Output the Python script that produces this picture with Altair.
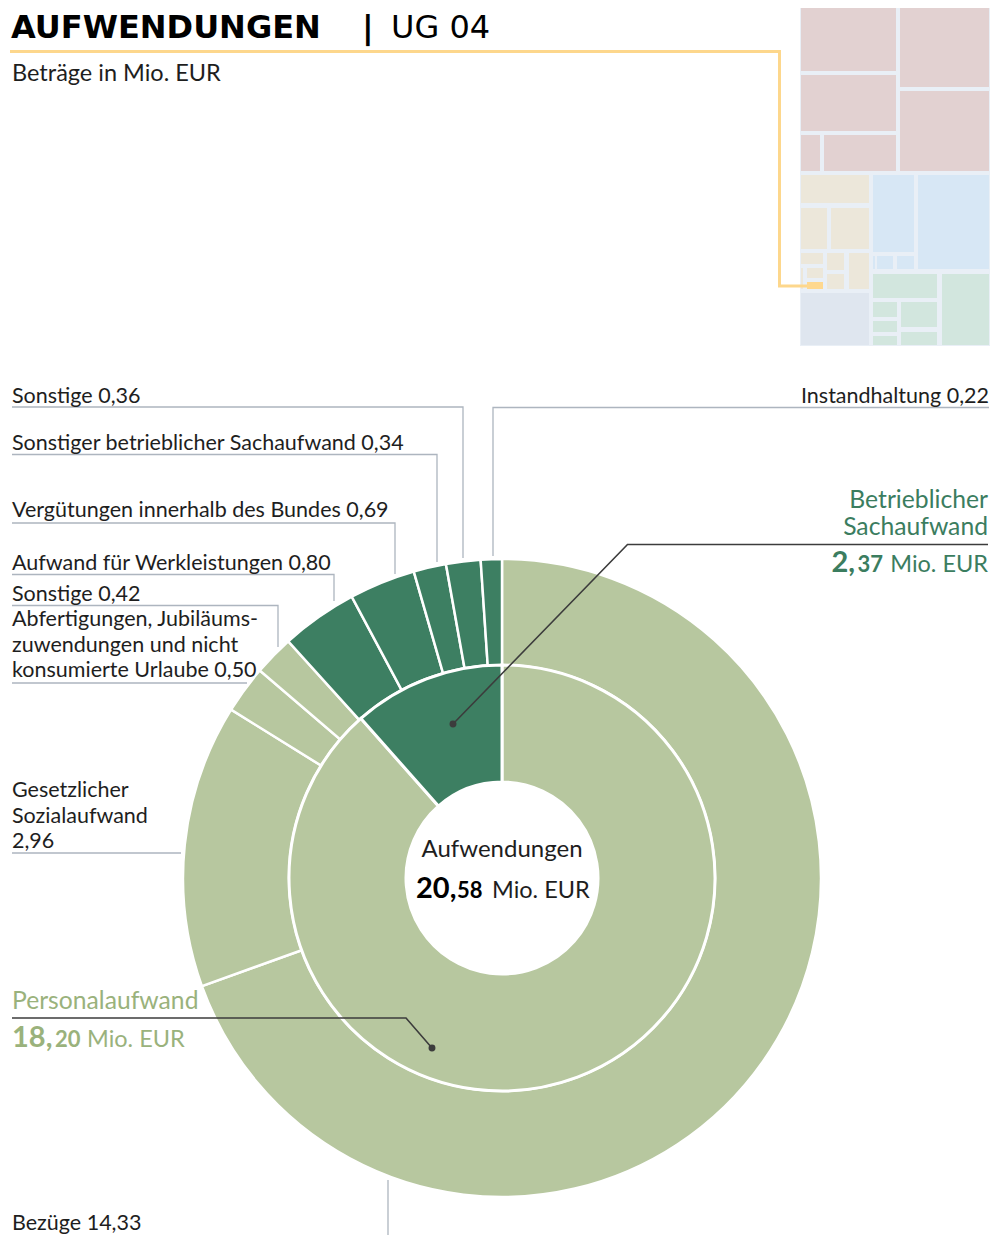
import altair as alt
import pandas as pd

# ---------------- data ----------------
total_value = 20.58
inner_names = ["Personalaufwand", "Betrieblicher Sachaufwand"]
inner_values = [18.20, 2.37]

outer_names = [
    "Bezüge",
    "Gesetzlicher Sozialaufwand",
    "Abfertigungen, Jubiläumszuwendungen und nicht konsumierte Urlaube",
    "Sonstige",
    "Aufwand für Werkleistungen",
    "Vergütungen innerhalb des Bundes",
    "Sonstiger betrieblicher Sachaufwand",
    "Sonstige",
    "Instandhaltung",
]
outer_values = [14.33, 2.96, 0.50, 0.42, 0.80, 0.69, 0.34, 0.36, 0.22]
outer_parent = [0, 0, 0, 0, 1, 1, 1, 1, 1]
outer_label_text = [
    "Bezüge {v}",
    "Gesetzlicher\nSozialaufwand\n{v}",
    "Abfertigungen, Jubiläums-\nzuwendungen und nicht\nkonsumierte Urlaube {v}",
    "Sonstige {v}",
    "Aufwand für Werkleistungen {v}",
    "Vergütungen innerhalb des Bundes {v}",
    "Sonstiger betrieblicher Sachaufwand {v}",
    "Sonstige {v}",
    "Instandhaltung {v}",
]

title_bold = "AUFWENDUNGEN"
title_sep = "|"
title_regular = "UG 04"
subtitle = "Beträge in Mio. EUR"
center_title = "Aufwendungen"
unit = "Mio. EUR"

# overview treemap thumbnail (cell bounds)
tm_group = ["r", "r", "r", "r", "r", "r",
            "b", "b", "b", "b", "b", "b", "b", "b", "b", "o",
            "u", "u", "u", "u", "u",
            "g",
            "t", "t", "t", "t", "t", "t", "t"]
tm_x0 = [801, 900, 801, 900, 801, 824,
         801, 801, 831, 801, 827, 849, 801, 807, 827, 807,
         873, 918, 873, 877, 897,
         801,
         873, 942, 873, 901, 873, 873, 901]
tm_x1 = [896, 989, 896, 989, 820, 896,
         869, 827, 869, 823, 844, 869, 803, 823, 844, 823,
         914, 989, 875, 893, 914,
         869,
         937, 989, 897, 937, 897, 897, 937]
tm_y0 = [5, 5, 75, 91, 135, 135,
         175, 208, 208, 253, 253, 253, 268, 268, 274, 282,
         175, 175, 256, 256, 256,
         293,
         274, 274, 302, 302, 321, 336, 332]
tm_y1 = [71, 87, 131, 171, 171, 171,
         203, 249, 249, 264, 270, 289, 289, 278, 289, 289,
         252, 269, 269, 269, 269,
         345,
         298, 345, 317, 327, 332, 345, 345]

# ---------------- styles / layout ----------------
LIGHT = "#b7c79f"
DARK = "#3d7f62"
LIGHT_TXT = "#9ab27c"
DARK_TXT = "#3b7d5f"
INK = "#1e1e1e"
GREY_LINE = "#adb5bf"
LEAD = "#3c3c3c"
YELLOW = "#fdd78c"
TM_COLORS = {"r": "#e2d1d1", "b": "#ece7da", "o": "#fed88f", "u": "#d7e7f5",
             "g": "#dfe6ef", "t": "#d2e6de"}
TM_BG = "#e9eff6"
FONT = "Lato"
TFONT = "DejaVu Sans"
LBL = 21.5

W, H = 985, 1227
M = 8
CX, CY = 502, 878          # page coordinates of donut centre
R_HOLE, R_MID, R_OUT = 96, 213, 319

xs = alt.Scale(domain=[M, M + W], nice=False, zero=False)
ys = alt.Scale(domain=[M, M + H], nice=False, zero=False, reverse=True)


def X(f):
    return alt.X(f, type="quantitative", scale=xs, axis=None)


def Y(f):
    return alt.Y(f, type="quantitative", scale=ys, axis=None)


def fmt(v):
    return f"{v:.2f}".replace(".", ",")


def text_layer(rows, **props):
    df = pd.DataFrame(rows, columns=["x", "y", "text", "color"])
    return alt.Chart(df).mark_text(font=props.pop("font", FONT), **props).encode(
        x=X("x"), y=Y("y"), text="text:N", color=alt.Color("color:N", scale=None)
    )


def line_layer(paths, color, width):
    rows = []
    for i, pts in enumerate(paths):
        for j, (x, y) in enumerate(pts):
            rows.append({"id": i, "k": j, "x": x, "y": y})
    return alt.Chart(pd.DataFrame(rows)).mark_line(color=color, strokeWidth=width).encode(
        x=X("x"), y=Y("y"), detail="id:N", order="k:Q"
    )


# ---------------- treemap ----------------
tm_df = pd.DataFrame({"x0": tm_x0, "x1": tm_x1, "y0": tm_y0, "y1": tm_y1,
                      "fill": [TM_COLORS[g] for g in tm_group]})
tm_bg = alt.Chart(pd.DataFrame({"x0": [800], "x1": [990], "y0": [4], "y1": [346]})).mark_rect(
    color=TM_BG).encode(x=X("x0"), x2="x1", y=Y("y0"), y2="y1")
tm = alt.Chart(tm_df).mark_rect().encode(
    x=X("x0"), x2="x1", y=Y("y0"), y2="y1", color=alt.Color("fill:N", scale=None))

yellow = line_layer([[(10, 51.5), (779.5, 51.5), (779.5, 286), (807, 286)]], YELLOW, 3)

# ---------------- donut ----------------
inner_df = pd.DataFrame({"name": inner_names, "value": inner_values, "ord": [0, 1],
                         "fill": [LIGHT, DARK]})
outer_df = pd.DataFrame({"name": outer_names, "value": outer_values,
                         "ord": list(range(len(outer_values))),
                         "fill": [[LIGHT, DARK][p] for p in outer_parent]})

outer_arc = alt.Chart(outer_df).mark_arc(
    innerRadius=R_MID, outerRadius=R_OUT, stroke="white", strokeWidth=2.5
).encode(
    theta=alt.Theta("value:Q", stack=True),
    order=alt.Order("ord:Q"),
    color=alt.Color("fill:N", scale=None),
    x=alt.value(CX - M), y=alt.value(CY - M),
)
inner_arc = alt.Chart(inner_df).mark_arc(
    innerRadius=R_HOLE, outerRadius=R_MID, stroke="white", strokeWidth=3
).encode(
    theta=alt.Theta("value:Q", stack=True),
    order=alt.Order("ord:Q"),
    color=alt.Color("fill:N", scale=None),
    x=alt.value(CX - M), y=alt.value(CY - M),
)

# ---------------- leader lines ----------------
grey_paths = [
    [(388, 1180), (388, 1235)],                      # Bezüge
    [(12, 853), (181, 853)],                         # Gesetzlicher Sozialaufwand
    [(12, 683), (247, 683)],                         # Abfertigungen
    [(12, 605.5), (278, 605.5), (278, 647)],         # Sonstige 0,42
    [(12, 574.5), (334, 574.5), (334, 601)],         # Werkleistungen
    [(12, 523), (395, 523), (395, 574)],             # Vergütungen
    [(12, 454.5), (437, 454.5), (437, 562)],         # Sonstiger betr.
    [(12, 407), (463, 407), (463, 558)],             # Sonstige 0,36
    [(989, 407.5), (493, 407.5), (493, 556)],        # Instandhaltung
]
grey = line_layer(grey_paths, GREY_LINE, 1.3)

dark_paths = [
    [(453, 724), (627.5, 544.5), (988, 544.5)],
    [(432, 1048), (406, 1018), (12, 1018)],
]
dark = line_layer(dark_paths, LEAD, 1.6)
dots = alt.Chart(pd.DataFrame({"x": [453, 432], "y": [724, 1048]})).mark_point(
    filled=True, size=48, color=LEAD, opacity=1).encode(x=X("x"), y=Y("y"))

# ---------------- texts ----------------
label_pos = [(12, 1230), (12, 797), (12, 626), (12, 601), (12, 570),
             (12, 517), (12, 449.5), (12, 403), (989, 403)]
left_rows, right_rows = [], []
for (x, y), t, v in zip(label_pos, outer_label_text, outer_values):
    row = (x, y, t.format(v=fmt(v)), INK)
    (right_rows if x > 500 else left_rows).append(row)

labels_left = text_layer(left_rows, align="left", baseline="alphabetic", fontSize=LBL,
                         lineBreak="\n", lineHeight=25.5)
labels_right = text_layer(right_rows, align="right", baseline="alphabetic", fontSize=LBL)

title_b = text_layer([(11, 38, title_bold, "#000000"), (362, 38, title_sep, "#000000")],
                     font=TFONT, fontWeight="bold", fontSize=32, align="left", baseline="alphabetic")
title_r = text_layer([(391, 38, title_regular, "#000000")], font=TFONT, fontSize=32,
                     align="left", baseline="alphabetic")
sub = text_layer([(12, 80.5, subtitle, INK)], fontSize=23.5, align="left", baseline="alphabetic")

grp_right = text_layer([(988, 508, "Betrieblicher\nSachaufwand", DARK_TXT)], fontSize=24.7,
                       align="right", baseline="alphabetic", lineBreak="\n", lineHeight=26.5)
grp_left = text_layer([(12, 1009, inner_names[0], LIGHT_TXT)], fontSize=24.7,
                      align="left", baseline="alphabetic")


def split(v):
    s = fmt(v)
    a, b = s.split(",")
    return a + ",", b


b2, s2 = split(inner_values[1])
b1, s1 = split(inner_values[0])
bt, st = split(total_value)

big_right = text_layer([(855, 572, b2, DARK_TXT)], fontSize=29, fontWeight="bold",
                       align="right", baseline="alphabetic")
small_right = text_layer([(883, 572, s2, DARK_TXT)], fontSize=22, fontWeight="bold",
                         align="right", baseline="alphabetic")
unit_right = text_layer([(988, 572, unit, DARK_TXT)], fontSize=23.5,
                        align="right", baseline="alphabetic")

big_left = text_layer([(12, 1047, b1, LIGHT_TXT), (416, 897.5, bt, "#000000")], fontSize=29,
                      fontWeight="bold", align="left", baseline="alphabetic")
small_left = text_layer([(55, 1047, s1, LIGHT_TXT), (457, 897.5, st, "#000000")], fontSize=22,
                        fontWeight="bold", align="left", baseline="alphabetic")
unit_left = text_layer([(87, 1047, unit, LIGHT_TXT), (492, 897.5, unit, INK)], fontSize=23.5,
                       align="left", baseline="alphabetic")
center_t = text_layer([(502, 857, center_title, INK)], fontSize=24, align="center",
                      baseline="alphabetic")

chart = alt.layer(
    tm_bg, tm, yellow, outer_arc, inner_arc, grey, dark, dots,
    labels_left, labels_right, title_b, title_r, sub, grp_right, grp_left,
    big_right, small_right, unit_right, big_left, small_left, unit_left, center_t,
).resolve_scale(theta="independent").properties(
    width=W, height=H, padding=0, background="white",
    autosize=alt.AutoSizeParams(type="none")
).configure_view(strokeWidth=0)

chart.save("out.html", embed_options={"renderer": "svg", "actions": False})
